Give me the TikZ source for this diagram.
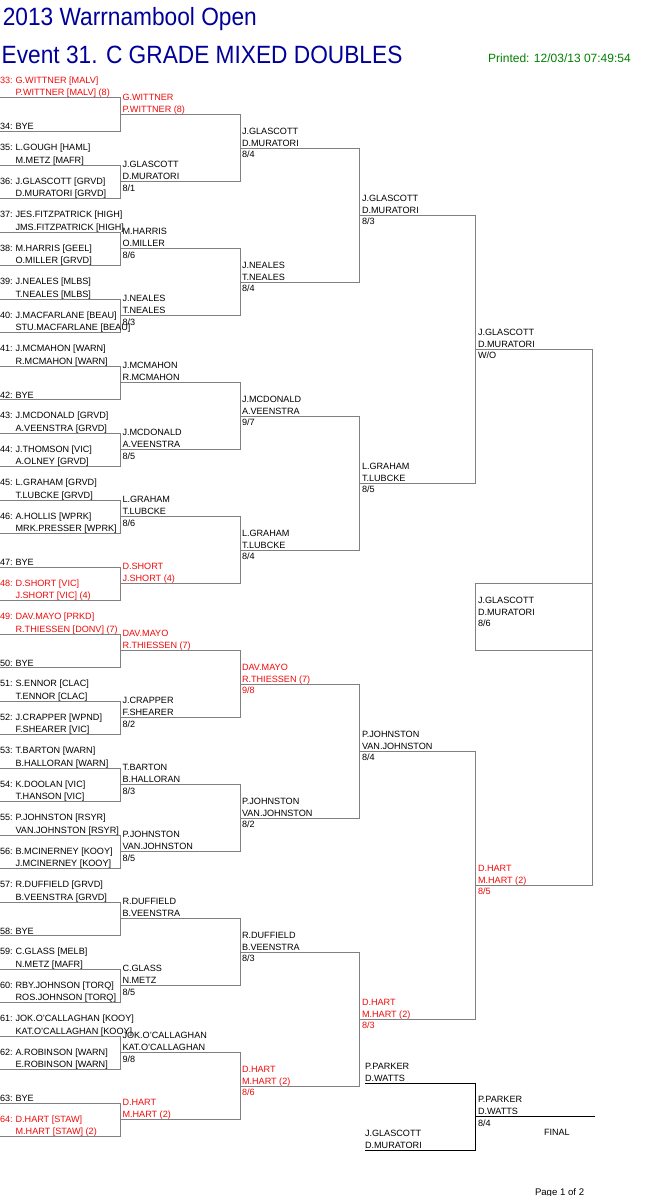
\documentclass[tikz,border=0pt]{standalone}
\usepackage{graphicx}
\usepackage{fontspec}
\setmainfont{Liberation Sans}
\definecolor{ln}{RGB}{128,128,128}
\definecolor{sd}{RGB}{240,10,10}
\definecolor{tb}{RGB}{0,0,153}
\definecolor{pg}{RGB}{0,128,0}
\tikzset{
  txt/.style={anchor=base west,inner sep=0pt,outer sep=0pt,font=\fontsize{9.1}{11}\selectfont,text=black},
  br/.style={draw=ln,line width=1pt},
  po/.style={draw=black,line width=1pt},
}
% first-round entry: k, number, line1, line2, colour
\newcommand\pent[5]{%
  \pgfmathsetmacro\yy{98+33.5*(#1-1)}
  \node[txt,text=#5] (num#1) at (0,\yy-14.3) {#2:};
  \node[txt,text=#5] (pa#1) at (15.6,\yy-14.3) {#3};
  \node[txt,text=#5] (pb#1) at (15.6,\yy-2) {#4};
}
\newcommand\pbye[2]{%
  \pgfmathsetmacro\yy{98+33.5*(#1-1)}
  \node[txt] (num#1) at (0,\yy-1.5) {#2:};
  \node[txt] (pa#1) at (15.6,\yy-1.5) {BYE};
}
% winner with score: name, x, y, l1, l2, score, colour
\newcommand\win[7]{%
  \node[txt,text=#7] (#1a) at (#2,#3-14) {#4};
  \node[txt,text=#7] (#1b) at (#2,#3-2) {#5};
  \node[txt,text=#7] (#1s) at (#2,#3+9.5) {#6};
}
% winner without score
\newcommand\wins[6]{%
  \node[txt,text=#6] (#1a) at (#2,#3-14) {#4};
  \node[txt,text=#6] (#1b) at (#2,#3-2) {#5};
}
\begin{document}
\begin{tikzpicture}[x=1pt,y=-1pt]
\useasboundingbox (0,0) rectangle (661,1196);
\fill[white] (0,0) rectangle (661,1196);

% titles
\node[anchor=base west,inner sep=0pt,text=tb,font=\fontsize{22.7}{26}\selectfont] (t1) at (2.6,26) {\scalebox{1}[1.1]{2013 Warrnambool Open}};
\node[anchor=base west,inner sep=0pt,text=tb,font=\fontsize{22.7}{26}\selectfont] (t2) at (1.5,64) {\scalebox{1}[1.1]{Event 31. C GRADE MIXED DOUBLES}};
\node[anchor=base west,inner sep=0pt,text=pg,font=\fontsize{12}{14}\selectfont] (pr) at (488,62.5) {Printed: 12/03/13 07:49:54};

% coordinates of the bracket
\foreach \k in {1,...,32}{
  \pgfmathsetmacro\yy{98+33.5*(\k-1)}
  \coordinate (a\k) at (0,\yy);
  \coordinate (b\k) at (120,\yy);
}
\foreach \k in {1,...,16}{
  \pgfmathsetmacro\yy{114.75+67*(\k-1)}
  \coordinate (c\k) at (120,\yy);
  \coordinate (d\k) at (240,\yy);
}
\foreach \k in {1,...,8}{
  \pgfmathsetmacro\yy{148.25+134*(\k-1)}
  \coordinate (e\k) at (240,\yy);
  \coordinate (f\k) at (359.5,\yy);
}
\foreach \k in {1,...,4}{
  \pgfmathsetmacro\yy{215.25+268*(\k-1)}
  \coordinate (g\k) at (359.5,\yy);
  \coordinate (h\k) at (475,\yy);
}
\foreach \k in {1,2}{
  \pgfmathsetmacro\yy{349.25+536*(\k-1)}
  \coordinate (p\k) at (475,\yy);
  \coordinate (q\k) at (592,\yy);
}
% bracket lines
\foreach \j in {1,...,16}{
  \pgfmathtruncatemacro\u{2*\j-1}\pgfmathtruncatemacro\v{2*\j}
  \draw[br] (a\u) -- (b\u) -- (b\v) -- (a\v);
}
\foreach \j in {1,...,8}{
  \pgfmathtruncatemacro\u{2*\j-1}\pgfmathtruncatemacro\v{2*\j}
  \draw[br] (c\u) -- (d\u) -- (d\v) -- (c\v);
}
\foreach \j in {1,...,4}{
  \pgfmathtruncatemacro\u{2*\j-1}\pgfmathtruncatemacro\v{2*\j}
  \draw[br] (e\u) -- (f\u) -- (f\v) -- (e\v);
}
\foreach \j in {1,2}{
  \pgfmathtruncatemacro\u{2*\j-1}\pgfmathtruncatemacro\v{2*\j}
  \draw[br] (g\u) -- (h\u) -- (h\v) -- (g\v);
}
\draw[br] (p1) -- (q1) -- (q2) -- (p2);
% semi-final winner box
\coordinate (fbA) at (592,583.75);
\coordinate (fbB) at (475,583.75);
\coordinate (fbC) at (475,650.75);
\coordinate (fbD) at (592,650.75);
\draw[br] (fbA) -- (fbB) -- (fbC) -- (fbD);

% first round
\pent{1}{33}{G.WITTNER [MALV]}{P.WITTNER [MALV] (8)}{sd}
\pbye{2}{34}
\pent{3}{35}{L.GOUGH [HAML]}{M.METZ [MAFR]}{black}
\pent{4}{36}{J.GLASCOTT [GRVD]}{D.MURATORI [GRVD]}{black}
\pent{5}{37}{JES.FITZPATRICK [HIGH]}{JMS.FITZPATRICK [HIGH]}{black}
\pent{6}{38}{M.HARRIS [GEEL]}{O.MILLER [GRVD]}{black}
\pent{7}{39}{J.NEALES [MLBS]}{T.NEALES [MLBS]}{black}
\pent{8}{40}{J.MACFARLANE [BEAU]}{STU.MACFARLANE [BEAU]}{black}
\pent{9}{41}{J.MCMAHON [WARN]}{R.MCMAHON [WARN]}{black}
\pbye{10}{42}
\pent{11}{43}{J.MCDONALD [GRVD]}{A.VEENSTRA [GRVD]}{black}
\pent{12}{44}{J.THOMSON [VIC]}{A.OLNEY [GRVD]}{black}
\pent{13}{45}{L.GRAHAM [GRVD]}{T.LUBCKE [GRVD]}{black}
\pent{14}{46}{A.HOLLIS [WPRK]}{MRK.PRESSER [WPRK]}{black}
\pbye{15}{47}
\pent{16}{48}{D.SHORT [VIC]}{J.SHORT [VIC] (4)}{sd}
\pent{17}{49}{DAV.MAYO [PRKD]}{R.THIESSEN [DONV] (7)}{sd}
\pbye{18}{50}
\pent{19}{51}{S.ENNOR [CLAC]}{T.ENNOR [CLAC]}{black}
\pent{20}{52}{J.CRAPPER [WPND]}{F.SHEARER [VIC]}{black}
\pent{21}{53}{T.BARTON [WARN]}{B.HALLORAN [WARN]}{black}
\pent{22}{54}{K.DOOLAN [VIC]}{T.HANSON [VIC]}{black}
\pent{23}{55}{P.JOHNSTON [RSYR]}{VAN.JOHNSTON [RSYR]}{black}
\pent{24}{56}{B.MCINERNEY [KOOY]}{J.MCINERNEY [KOOY]}{black}
\pent{25}{57}{R.DUFFIELD [GRVD]}{B.VEENSTRA [GRVD]}{black}
\pbye{26}{58}
\pent{27}{59}{C.GLASS [MELB]}{N.METZ [MAFR]}{black}
\pent{28}{60}{RBY.JOHNSON [TORQ]}{ROS.JOHNSON [TORQ]}{black}
\pent{29}{61}{JOK.O'CALLAGHAN [KOOY]}{KAT.O'CALLAGHAN [KOOY]}{black}
\pent{30}{62}{A.ROBINSON [WARN]}{E.ROBINSON [WARN]}{black}
\pbye{31}{63}
\pent{32}{64}{D.HART [STAW]}{M.HART [STAW] (2)}{sd}

% second round
\wins{rb1}{122.5}{114.75}{G.WITTNER}{P.WITTNER (8)}{sd}
\win{rb2}{122.5}{181.75}{J.GLASCOTT}{D.MURATORI}{8/1}{black}
\win{rb3}{122.5}{248.75}{M.HARRIS}{O.MILLER}{8/6}{black}
\win{rb4}{122.5}{315.75}{J.NEALES}{T.NEALES}{8/3}{black}
\wins{rb5}{122.5}{382.75}{J.MCMAHON}{R.MCMAHON}{black}
\win{rb6}{122.5}{449.75}{J.MCDONALD}{A.VEENSTRA}{8/5}{black}
\win{rb7}{122.5}{516.75}{L.GRAHAM}{T.LUBCKE}{8/6}{black}
\wins{rb8}{122.5}{583.75}{D.SHORT}{J.SHORT (4)}{sd}
\wins{rb9}{122.5}{650.75}{DAV.MAYO}{R.THIESSEN (7)}{sd}
\win{rb10}{122.5}{717.75}{J.CRAPPER}{F.SHEARER}{8/2}{black}
\win{rb11}{122.5}{784.75}{T.BARTON}{B.HALLORAN}{8/3}{black}
\win{rb12}{122.5}{851.75}{P.JOHNSTON}{VAN.JOHNSTON}{8/5}{black}
\wins{rb13}{122.5}{918.75}{R.DUFFIELD}{B.VEENSTRA}{black}
\win{rb14}{122.5}{985.75}{C.GLASS}{N.METZ}{8/5}{black}
\win{rb15}{122.5}{1052.75}{JOK.O'CALLAGHAN}{KAT.O'CALLAGHAN}{9/8}{black}
\wins{rb16}{122.5}{1119.75}{D.HART}{M.HART (2)}{sd}

% third round
\win{rc1}{242}{148.25}{J.GLASCOTT}{D.MURATORI}{8/4}{black}
\win{rc2}{242}{282.25}{J.NEALES}{T.NEALES}{8/4}{black}
\win{rc3}{242}{416.25}{J.MCDONALD}{A.VEENSTRA}{9/7}{black}
\win{rc4}{242}{550.25}{L.GRAHAM}{T.LUBCKE}{8/4}{black}
\win{rc5}{242}{684.25}{DAV.MAYO}{R.THIESSEN (7)}{9/8}{sd}
\win{rc6}{242}{818.25}{P.JOHNSTON}{VAN.JOHNSTON}{8/2}{black}
\win{rc7}{242}{952.25}{R.DUFFIELD}{B.VEENSTRA}{8/3}{black}
\win{rc8}{242}{1086.25}{D.HART}{M.HART (2)}{8/6}{sd}

% fourth round
\win{rd1}{362}{215.25}{J.GLASCOTT}{D.MURATORI}{8/3}{black}
\win{rd2}{362}{483.25}{L.GRAHAM}{T.LUBCKE}{8/5}{black}
\win{rd3}{362}{751.25}{P.JOHNSTON}{VAN.JOHNSTON}{8/4}{black}
\win{rd4}{362}{1019.25}{D.HART}{M.HART (2)}{8/3}{sd}

% fifth round
\win{re1}{478}{349.25}{J.GLASCOTT}{D.MURATORI}{W/O}{black}
\win{re2}{478}{885.25}{D.HART}{M.HART (2)}{8/5}{sd}
\win{rf}{478}{617.25}{J.GLASCOTT}{D.MURATORI}{8/6}{black}

% play-off
\coordinate (ppA) at (365,1083);
\coordinate (ppB) at (475,1083);
\coordinate (jgA) at (365,1150);
\coordinate (jgB) at (475,1150);
\coordinate (fwA) at (475,1116.5);
\coordinate (fwB) at (595,1116.5);
\draw[po] (ppA) -- (ppB) -- (jgB) -- (jgA);
\draw[po] (fwA) -- (fwB);
\wins{pp}{365}{1083}{P.PARKER}{D.WATTS}{black}
\wins{jg}{365}{1150}{J.GLASCOTT}{D.MURATORI}{black}
\win{fw}{478}{1116.5}{P.PARKER}{D.WATTS}{8/4}{black}
\node[txt] (final) at (544,1135.7) {FINAL};
\node[txt,font=\fontsize{9.6}{11}\selectfont] (page) at (535,1195) {Page 1 of 2};
\end{tikzpicture}
\end{document}
